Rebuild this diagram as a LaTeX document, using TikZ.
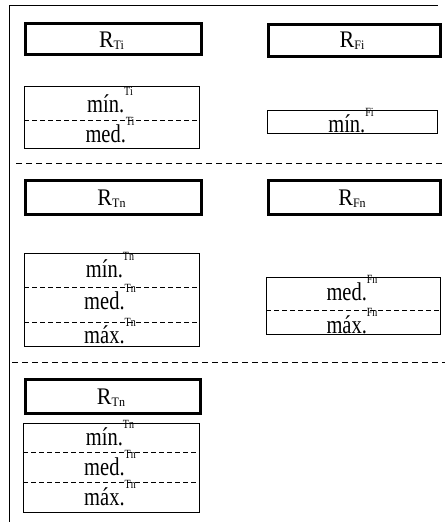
\documentclass[tikz,border=0pt]{standalone}
\usepackage{fontspec}
\setmainfont{Liberation Serif}
\usepackage{graphicx}
\newcommand\mainlbl[2]{\scalebox{1}[1.25]{\fontsize{20.5}{24}\selectfont #1\raisebox{13pt}{\fontsize{10}{12}\selectfont #2}}}
\newcommand\rlbl[1]{\scalebox{1}[1.08]{\fontsize{22}{26}\selectfont R\raisebox{-2.5pt}{\fontsize{12}{14}\selectfont #1}}}
\begin{document}
\begin{tikzpicture}[x=1pt,y=-1pt,
  thickbox/.style={draw, line width=3pt, anchor=north west, inner sep=0pt},
  thinbox/.style={draw, line width=0.9pt, anchor=north west, inner sep=0pt},
  divider/.style={line width=0.8pt, dash pattern=on 5pt off 3pt},
  sepline/.style={line width=0.9pt, dash pattern=on 6pt off 4pt},
  frameline/.style={line width=1pt},
  txt/.style={anchor=base, inner sep=0pt}]
\useasboundingbox (0,0) rectangle (445,522);
% frame
\coordinate (fbl) at (9,522);
\coordinate (ftl) at (9,5);
\coordinate (ftr) at (438,5);
\draw[frameline] (fbl) -- (ftl) -- (ftr);
% separators
\coordinate (s1a) at (16,163); \coordinate (s1b) at (445,163);
\coordinate (s2a) at (12,362); \coordinate (s2b) at (445,362);
\draw[sepline] (s1a) -- (s1b);
\draw[sepline] (s2a) -- (s2b);
% header boxes
\node[thickbox, minimum width=176pt, minimum height=31pt] (rti) at (23.5,22) {};
\node[thickbox, minimum width=172pt, minimum height=32pt] (rfi) at (266.5,22.5) {};
\node[thickbox, minimum width=176pt, minimum height=34pt] (rtn) at (23.5,178.5) {};
\node[thickbox, minimum width=172pt, minimum height=34pt] (rfn) at (266.5,178.5) {};
\node[thickbox, minimum width=175pt, minimum height=34pt] (rtn2) at (23.5,377.5) {};
\node[txt] at (111.5,47) {\rlbl{Ti}};
\node[txt] at (352,47) {\rlbl{Fi}};
\node[txt] at (111.5,205) {\rlbl{Tn}};
\node[txt] at (352,205) {\rlbl{Fn}};
\node[txt] at (111,404) {\rlbl{Tn}};
% value boxes
\node[thinbox, minimum width=175pt, minimum height=62pt] (tibox) at (24,86) {};
\node[thinbox, minimum width=170pt, minimum height=23pt] (fibox) at (267,110) {};
\node[thinbox, minimum width=175pt, minimum height=93pt] (tnbox) at (24,253) {};
\node[thinbox, minimum width=174pt, minimum height=57pt] (fnbox) at (266,277) {};
\node[thinbox, minimum width=176pt, minimum height=89pt] (tnbox2) at (23,423) {};
% dividers
\draw[divider] (tibox.west |- 0,120) -- (tibox.east |- 0,120);
\draw[divider] (tnbox.west |- 0,287) -- (tnbox.east |- 0,287);
\draw[divider] (tnbox.west |- 0,322) -- (tnbox.east |- 0,322);
\draw[divider] (fnbox.west |- 0,310) -- (fnbox.east |- 0,310);
\draw[divider] (tnbox2.west |- 0,452) -- (tnbox2.east |- 0,452);
\draw[divider] (tnbox2.west |- 0,482) -- (tnbox2.east |- 0,482);
% labels
\node[txt] at (110,112) {\mainlbl{mín.}{Ti}};
\node[txt] at (110,142) {\mainlbl{med.}{Ti}};
\node[txt] at (351,132.5) {\mainlbl{mín.}{Fi}};
\node[txt] at (110,277) {\mainlbl{mín.}{Tn}};
\node[txt] at (110,309) {\mainlbl{med.}{Tn}};
\node[txt] at (110,343) {\mainlbl{máx.}{Tn}};
\node[txt] at (352,300) {\mainlbl{med.}{Fn}};
\node[txt] at (352,333) {\mainlbl{máx.}{Fn}};
\node[txt] at (110,445) {\mainlbl{mín.}{Tn}};
\node[txt] at (110,475) {\mainlbl{med.}{Tn}};
\node[txt] at (110,505) {\mainlbl{máx.}{Tn}};
\end{tikzpicture}
\end{document}
